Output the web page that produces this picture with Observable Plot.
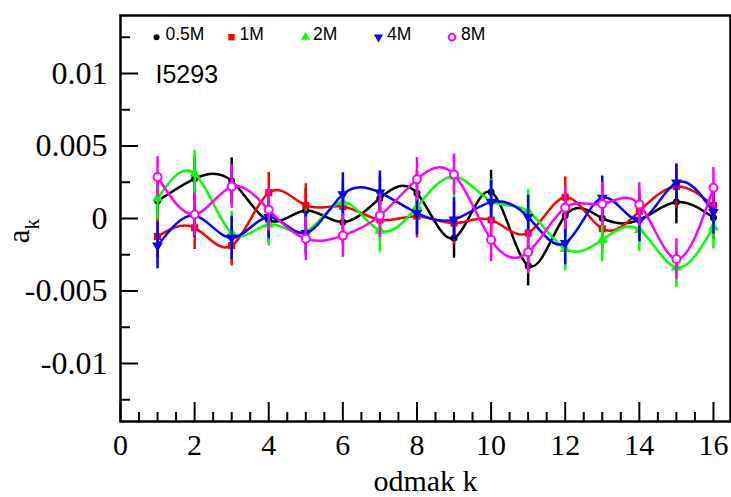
<!DOCTYPE html>
<html><head><meta charset="utf-8">
<script src="https://cdn.jsdelivr.net/npm/d3@7"></script>
<script src="https://cdn.jsdelivr.net/npm/@observablehq/plot@0.6"></script>
<style>body{margin:0;background:#fff}#chart{position:relative}</style>
</head><body><div id="chart"></div>
<script>
const k = [1,2,3,4,5,6,7,8,9,10,11,12,13,14,15,16];
const seriesNames = ["0.5M","1M","2M","4M","8M"];
const a05 = [0.0012, 0.00274, 0.00258, -0.00014, 0.00055, -0.00025, 0.0014, 0.00175, -0.00134, 0.00182, -0.00325, 0.0002, 0.00002, -0.0001, 0.00113, 0.00005];
const a1  = [-0.00124, -0.00064, -0.00187, 0.00178, 0.0009, 0.00083, -0.0001, 0.00016, -0.00032, -0.0001, -0.001, 0.00147, -0.00071, 0.0005, 0.0022, 0.0009];
const a2  = [0.0014, 0.0031, -0.001, -0.0004, -0.0009, 0.00113, -0.00083, 0.0008, 0.0029, 0.0012, 0.0005, -0.0021, -0.00147, -0.00078, -0.00337, -0.0006];
const a4  = [-0.00187, 0.0002, -0.00134, 0.0001, -0.001, 0.00166, 0.00178, 0.00037, -0.00007, 0.00113, 0.0001, -0.0017, 0.00143, -0.0001, 0.00247, 0.00044];
const a8  = [0.00286, 0.00028, 0.0022, 0.0006, -0.0014, -0.00118, 0.0002, 0.0027, 0.00304, -0.00147, -0.00233, 0.00074, 0.001, 0.00097, -0.00279, 0.00212];
const e05 = [0.0015, 0.0015, 0.0016, 0.0015, 0.0015, 0.0015, 0.0015, 0.0015, 0.0014, 0.0015, 0.0014, 0.0015, 0.0015, 0.0015, 0.0015, 0.0015];
const e1  = [0.0015, 0.0015, 0.0014, 0.0014, 0.0015, 0.0015, 0.0015, 0.0015, 0.0015, 0.0015, 0.0015, 0.0014, 0.0015, 0.0015, 0.0015, 0.0015];
const e2  = [0.0015, 0.0016, 0.0015, 0.0015, 0.0015, 0.0015, 0.0015, 0.0015, 0.0015, 0.0015, 0.0015, 0.0015, 0.0015, 0.0015, 0.0014, 0.0015];
const e4  = [0.0016, 0.0015, 0.0015, 0.0015, 0.0015, 0.0015, 0.0015, 0.0015, 0.0015, 0.0015, 0.0015, 0.0015, 0.0015, 0.0015, 0.0013, 0.0015];
const e8  = [0.0014, 0.0015, 0.0015, 0.0015, 0.0015, 0.0015, 0.0015, 0.0015, 0.0014, 0.0015, 0.0015, 0.0015, 0.0015, 0.0015, 0.0014, 0.0014];
const yMajor = [-0.01, -0.005, 0, 0.005, 0.01];
const yMinor = [-0.0125, -0.0075, -0.0025, 0.0025, 0.0075, 0.0125];
const xMajor = [0, 2, 4, 6, 8, 10, 12, 14, 16];
const xMinor = [0.5,1,1.5,2.5,3,3.5,4.5,5,5.5,6.5,7,7.5,8.5,9,9.5,10.5,11,11.5,12.5,13,13.5,14.5,15,15.5];
const panelLabel = "I5293";
const xLabel = "odmak k";

const SERIF = "Liberation Serif, Times New Roman, serif";
const SANS = "Liberation Sans, Arial, sans-serif";

const triangleDown = {
  draw(context, size) {
    const y = -Math.sqrt(size / (Math.sqrt(3) * 3));
    context.moveTo(0, -y * 2);
    context.lineTo(-Math.sqrt(3) * y, y);
    context.lineTo(Math.sqrt(3) * y, y);
    context.closePath();
  }
};

const styles = [
  {color: "#000000", symbol: "circle", r: 3.5, lr: 3, open: false, ldx: 36, tdx: 45},
  {color: "#ff0000", symbol: "square", r: 4, lr: 3.6, open: false, ldx: 111, tdx: 119},
  {color: "#00ff00", symbol: "triangle", r: 4, lr: 3.4, open: false, ldx: 185, tdx: 192.5},
  {color: "#0000ff", symbol: triangleDown, r: 4, lr: 3.4, open: false, ldx: 258, tdx: 266.5},
  {color: "#ff00ff", symbol: "circle", r: 4, lr: 3.3, open: true, ldx: 331.5, tdx: 340.5}
];
const values = [a05, a1, a2, a4, a8];
const errors = [e05, e1, e2, e4, e8];

const marks = [];
seriesNames.forEach((name, si) => {
  const s = styles[si];
  const rows = k.map((kk, i) => ({k: kk, v: values[si][i], e: errors[si][i]}));
  marks.push(Plot.ruleX(rows, {x: "k", y1: d => d.v - d.e, y2: d => d.v + d.e, stroke: s.color, strokeWidth: 2.5}));
  marks.push(Plot.line(rows, {x: "k", y: "v", curve: "natural", stroke: s.color, strokeWidth: 2.5}));
  marks.push(Plot.dot(rows, {x: "k", y: "v", symbol: s.symbol, r: s.r,
    fill: s.open ? "white" : s.color, stroke: s.open ? s.color : "none", strokeWidth: s.open ? 2 : 0}));
  // legend
  marks.push(Plot.dot([name], {frameAnchor: "top-left", dx: s.ldx, dy: 21.7, symbol: s.symbol, r: s.lr,
    fill: s.open ? "white" : s.color, stroke: s.open ? s.color : "none", strokeWidth: s.open ? 2 : 0}));
  marks.push(Plot.text([name], {frameAnchor: "top-left", dx: s.tdx, dy: 18.5, text: d => d, textAnchor: "start",
    lineAnchor: "middle", fontFamily: SANS, fontSize: 17.5, fill: "black"}));
});
marks.push(Plot.text([panelLabel], {frameAnchor: "top-left", dx: 35, dy: 59, text: d => d, textAnchor: "start",
  lineAnchor: "middle", fontFamily: SANS, fontSize: 25, fill: "black"}));

// axes (ticks inward)
marks.push(Plot.axisY(yMajor, {anchor: "left", tickSize: -18, strokeWidth: 2, tickFormat: () => "", label: null}));
marks.push(Plot.axisY(yMinor, {anchor: "left", tickSize: -10, strokeWidth: 2, tickFormat: () => "", label: null}));
marks.push(Plot.axisX(xMajor, {anchor: "bottom", tickSize: -19, strokeWidth: 2, tickFormat: () => "", label: null}));
marks.push(Plot.axisX(xMinor, {anchor: "bottom", tickSize: -9, strokeWidth: 2, tickFormat: () => "", label: null}));
// tick labels
marks.push(Plot.text(yMajor, {y: d => d, frameAnchor: "left", dx: -13, textAnchor: "end", lineAnchor: "middle",
  text: d => String(d), fontFamily: SERIF, fontSize: 32, fill: "black"}));
marks.push(Plot.text(xMajor, {x: d => d, frameAnchor: "bottom", dy: 12, lineAnchor: "top",
  text: d => String(d), fontFamily: SERIF, fontSize: 30, fill: "black"}));
marks.push(Plot.text([xLabel], {frameAnchor: "bottom", dy: 60, text: d => d, lineAnchor: "middle",
  fontFamily: SERIF, fontSize: 30, fill: "black"}));
marks.push(Plot.frame({stroke: "black", strokeWidth: 2.5}));

const chart = Plot.plot({
  width: 731, height: 497,
  marginLeft: 120, marginRight: 1, marginTop: 15, marginBottom: 76,
  x: {domain: [0, 16.46]},
  y: {domain: [-0.014, 0.014]},
  style: {fontFamily: SERIF, fontSize: "27px", background: "white", color: "black"},
  marks
});
document.getElementById("chart").append(chart);

// y-axis label a_k with subscript
const svg = d3.select(chart);
const lab = svg.append("text")
  .attr("transform", "translate(28.5,231) rotate(-90)")
  .attr("font-family", SERIF).attr("font-size", 31).attr("fill", "black");
lab.append("tspan").text("a");
lab.append("tspan").attr("dy", 10).attr("font-size", 21).text("k");
</script>
</body></html>
